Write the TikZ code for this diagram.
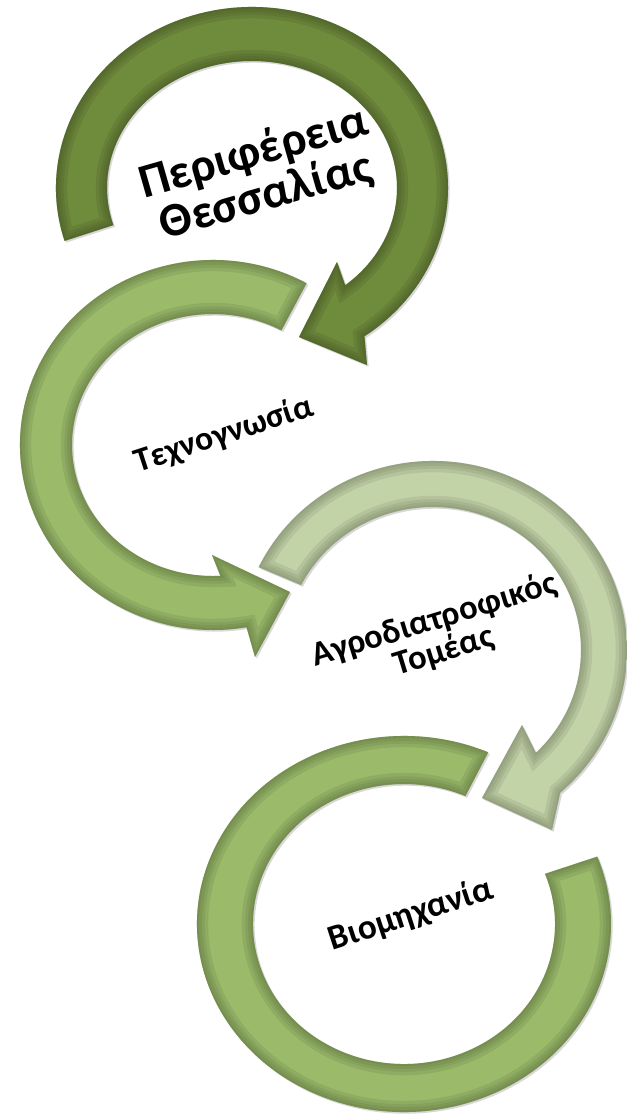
\documentclass[tikz,border=0pt]{standalone}
\usepackage{fontspec}
\newfontfamily\greekfont{Carlito}
\usetikzlibrary{shadows}

\definecolor{olivedark}{RGB}{111,139,60}
\definecolor{olivemid}{RGB}{155,187,106}
\definecolor{olivepale}{RGB}{195,211,168}

\tikzset{
  ring/.style={fill=#1, drop shadow={opacity=0.3, shadow xshift=1.2pt, shadow yshift=-1.2pt}},
  ringtext/.style={font=\greekfont\bfseries\fontsize{#1}{0.95\dimexpr#1pt\relax}\selectfont, align=center, text=black}
}

% the four arrows, each round its own centre
\newcommand\arrowone{(197:196 and 181) arc[start angle=197, end angle=-55, x radius=196, y radius=181]
  -- (115,-177) -- (47,-149) -- (85,-74)
  -- (-50:145 and 127) arc[start angle=-50, end angle=197, x radius=145, y radius=127] -- cycle}
\newcommand\arrowtwo{(61:193 and 185) arc[start angle=61, end angle=280, x radius=193, y radius=185]
  -- (42,-212) -- (77,-147) -- (-1,-110)
  -- (273:141 and 131) arc[start angle=273, end angle=61, x radius=141, y radius=131] -- cycle}
\newcommand\arrowthree{(154:194 and 189) arc[start angle=154, end angle=-49, x radius=194, y radius=189]
  -- (119,-180) -- (49,-148) -- (89,-75)
  -- (-46:148 and 143) arc[start angle=-46, end angle=153, x radius=148, y radius=143] -- cycle}
\newcommand\arrowfour{(66:207 and 188) arc[start angle=66, end angle=381, x radius=207, y radius=188]
  -- (21:151 and 140) arc[start angle=381, end angle=66, x radius=151, y radius=140] -- cycle}

% darker rim inside a shape
\newcommand\bevel[2]{%
  \begin{scope}
    \clip #1;
    \foreach \w in {16,11,7,3}
      \draw[#2!55!black, line width=\w pt, opacity=0.16] #1;
  \end{scope}}

\begin{document}
\begin{tikzpicture}[x=0.025cm, y=0.025cm]
  \useasboundingbox (0,-1117) rectangle (626,0);
  \fill[white] (0,-1117) rectangle (626,0);

  \begin{scope}[shift={(252,-188)}]
    \fill[ring=olivedark] \arrowone;
    \bevel{\arrowone}{olivedark}
  \end{scope}
  \begin{scope}[shift={(213,-445)}]
    \fill[ring=olivemid] \arrowtwo;
    \bevel{\arrowtwo}{olivemid}
  \end{scope}
  \begin{scope}[shift={(433,-650)}]
    \fill[ring=olivepale] \arrowthree;
    \bevel{\arrowthree}{olivepale}
  \end{scope}
  \begin{scope}[shift={(404,-924)}]
    \fill[ring=olivemid] \arrowfour;
    \bevel{\arrowfour}{olivemid}
  \end{scope}

  \node[ringtext=34, rotate=16] (perifereia) at (260,-175) {Περιφέρεια\\Θεσσαλίας};
  \node[ringtext=24, rotate=18] (technognosia) at (224,-435) {Τεχνογνωσία};
  \node[ringtext=24.5, rotate=17] (agrodiatrofikos) at (439,-636) {Αγροδιατροφικός\\Τομέας};
  \node[ringtext=25, rotate=18] (viomichania) at (411,-915) {Βιομηχανία};
\end{tikzpicture}
\end{document}
